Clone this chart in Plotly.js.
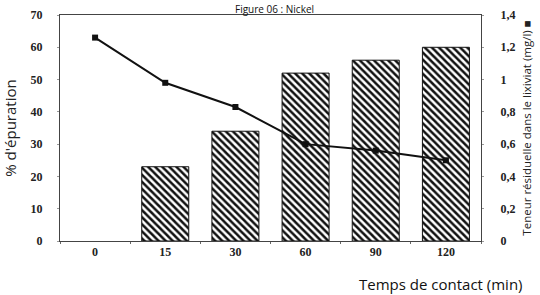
<!DOCTYPE html>
<html><head><meta charset="utf-8">
<script src="https://cdn.plot.ly/plotly-3.0.1.min.js"></script>
<style>html,body{margin:0;padding:0;background:#fff}#chart{width:540px;height:295px}</style>
</head><body><div id="chart"></div>
<script>
const categories = ["0", "15", "30", "60", "90", "120"];
const epuration = [null, 23, 34, 52, 56, 60];
const teneur = [1.26, 0.98, 0.83, 0.60, 0.56, 0.50];
const leftTicks = [0, 10, 20, 30, 40, 50, 60, 70];
const rightTicks = [0, 0.2, 0.4, 0.6, 0.8, 1, 1.2, 1.4];

const tickFont = {family: "Liberation Serif, serif", size: 12, color: "#222", weight: "bold"};

const traces = [
  {
    type: "bar", x: categories, y: epuration, yaxis: "y",
    marker: {color: "#fff", line: {color: "#111", width: 1},
      pattern: {shape: "\\", fgcolor: "#111", bgcolor: "#fff", size: 5, solidity: 0.5}},
    showlegend: false
  },
  {
    type: "scatter", mode: "lines+markers", x: categories, y: teneur, yaxis: "y2",
    line: {color: "#111", width: 2},
    marker: {symbol: "square", size: 6, color: "#111"},
    showlegend: false
  }
];

const layout = {
  width: 540, height: 295,
  margin: {l: 60, r: 59, t: 15, b: 54},
  paper_bgcolor: "#fff", plot_bgcolor: "#fff",
  separators: ", ",
  bargap: 0.33,
  xaxis: {
    type: "category", tickfont: tickFont, showline: true, linecolor: "#444", linewidth: 1,
    mirror: true, ticks: "outside", ticklen: 2, tickson: "boundaries", tickcolor: "#666",
    showgrid: false, zeroline: false, fixedrange: true
  },
  yaxis: {
    range: [0, 70], tickvals: leftTicks, tickfont: tickFont, showline: true, linecolor: "#444",
    linewidth: 1, ticks: "outside", ticklen: 2, tickcolor: "#999", showgrid: false, zeroline: false,
    ticklabelstandoff: 12,
    title: {text: "% d'épuration", font: {family: "Open Sans, sans-serif", size: 15, color: "#222"}, standoff: 10}
  },
  yaxis2: {
    overlaying: "y", side: "right", range: [0, 1.4], tickvals: rightTicks, tickformat: ".1~f",
    tickfont: tickFont, showline: true, linecolor: "#444", linewidth: 1, ticks: "outside",
    ticklen: 2, tickcolor: "#999", showgrid: false, zeroline: false, ticklabelstandoff: 14,
    title: {text: "Teneur résiduelle dans le lixiviat (mg/l) ■", font: {family: "Open Sans, sans-serif", size: 11.5, color: "#222"}, standoff: 8}
  },
  annotations: [
    {text: "Temps de contact (min)", xref: "paper", yref: "paper", x: 1.105, y: -0.135,
     xanchor: "right", yanchor: "top", showarrow: false,
     font: {family: "Open Sans, sans-serif", size: 15, color: "#111"}},
    {text: "Figure 06 : Nickel", xref: "paper", yref: "paper", x: 0.51, y: 1.066,
     xanchor: "center", yanchor: "top", showarrow: false,
     font: {family: "Open Sans, sans-serif", size: 10, color: "#111"}}
  ]
};

Plotly.newPlot("chart", traces, layout, {displayModeBar: false, staticPlot: true});
</script></body></html>
